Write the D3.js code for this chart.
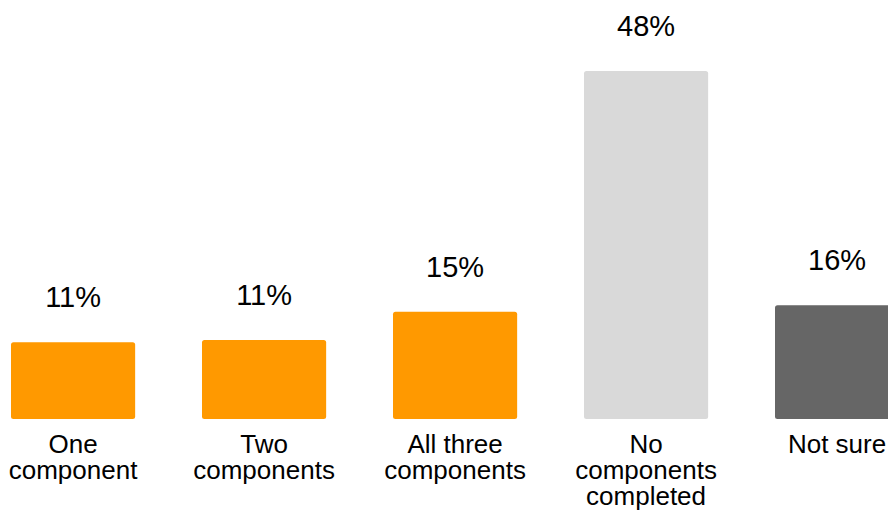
<!DOCTYPE html>
<html>
<head>
<meta charset="utf-8">
<script src="https://cdn.jsdelivr.net/npm/d3@7"></script>
<style>
  html, body { margin: 0; padding: 0; background: #ffffff; overflow: hidden; }
  svg { display: block; }
  text { font-family: "Liberation Sans", Arial, Helvetica, sans-serif; fill: #000; }
</style>
</head>
<body>
<svg id="chart" width="888" height="512"></svg>
<script>
const categories = ["One component", "Two components", "All three components", "No components completed", "Not sure"];
const categoryLines = [["One", "component"], ["Two", "components"], ["All three", "components"], ["No", "components", "completed"], ["Not sure"]];
const values = [10.6, 10.9, 14.8, 48, 15.7];
const colors = ["#FF9900", "#FF9900", "#FF9900", "#D9D9D9", "#666666"];

const svg = d3.select("#chart");
const width = 888, height = 512;

const step = 191;
const x0 = 11 - 0.175 * step;
const x = d3.scaleBand()
  .domain(categories)
  .range([x0, x0 + step * categories.length])
  .paddingInner(0.35)
  .paddingOuter(0.175);

const y = d3.scaleLinear().domain([0, 48]).range([419, 71]);

const g = svg.append("g");

g.selectAll("rect.bar")
  .data(values)
  .join("rect")
  .attr("class", "bar")
  .attr("x", (d, i) => x(categories[i]))
  .attr("y", d => y(d))
  .attr("width", x.bandwidth())
  .attr("height", d => y(0) - y(d))
  .attr("rx", 2.5)
  .attr("fill", (d, i) => colors[i]);

g.selectAll("text.val")
  .data(values)
  .join("text")
  .attr("class", "val")
  .attr("x", (d, i) => x(categories[i]) + x.bandwidth() / 2)
  .attr("y", d => y(d) - 35)
  .attr("text-anchor", "middle")
  .style("font-size", "29px")
  .text(d => Math.round(d) + "%");

const labels = g.selectAll("text.cat")
  .data(categories)
  .join("text")
  .attr("class", "cat")
  .attr("text-anchor", "middle")
  .style("font-size", "26px")
  .attr("x", d => x(d) + x.bandwidth() / 2)
  .attr("y", 453);

labels.each(function(d, i) {
  const t = d3.select(this);
  const cx = x(d) + x.bandwidth() / 2;
  categoryLines[i].forEach((line, j) => {
    t.append("tspan").attr("x", cx).attr("dy", j === 0 ? 0 : 26).text(line);
  });
});
</script>
</body>
</html>
